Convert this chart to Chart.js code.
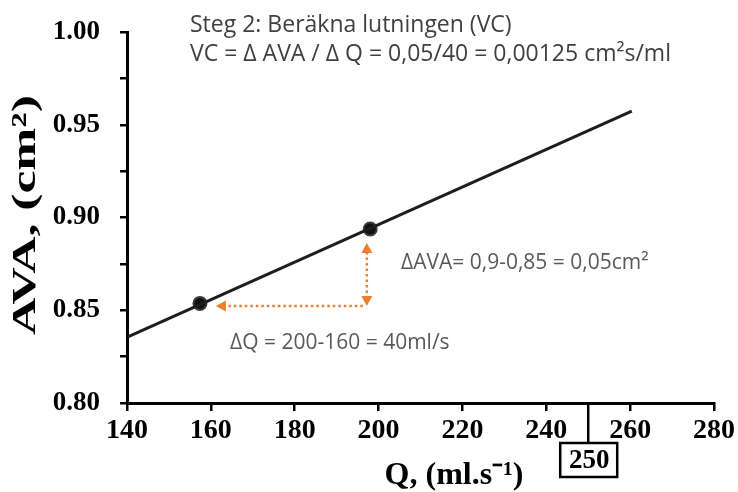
<!DOCTYPE html>
<html lang="sv">
<head>
<meta charset="UTF-8">
<title>AVA mot Q</title>
<style>
  html, body { margin: 0; padding: 0; background: #fff; }
  canvas { display: block; }
</style>
</head>
<body>
<canvas id="c" width="738" height="492"></canvas>

<script src="https://cdn.jsdelivr.net/npm/chart.js"></script>
<script>
"use strict";

// regression line, its two ends
const lineQ = [140.2, 260.4];
const lineAva = [0.8356, 0.9574];
// the two marked measurements
const pointQ = [157.4, 198.0];
const pointAva = [0.8537, 0.8938];
// orange helper arrows: dQ (horizontal) and dAVA (vertical)
const arrowQ = [161.2, 197.2];
const arrowAva = [0.8523, 0.8863];
// boxed value under the x axis
const markedQ = 250;

// axis ticks
const qTicks = [140, 160, 180, 200, 220, 240, 260, 280];
const avaTicks = [0.80, 0.825, 0.85, 0.875, 0.90, 0.925, 0.95, 0.975, 1.00];
const avaLabels = ["0.80", "", "0.85", "", "0.90", "", "0.95", "", "1.00"];

// texts
const titleLines = ["Steg 2: Beräkna lutningen (VC)", "VC = Δ AVA / Δ Q = 0,05/40 = 0,00125 cm²s/ml"];
const dAvaText = "ΔAVA= 0,9-0,85 = 0,05cm²";
const dQText = "ΔQ = 200-160 = 40ml/s";
const yTitle = "AVA, (cm²)";
const xTitle = "Q, (ml.s⁻¹)";

const serif = '"Liberation Serif", "Times New Roman", serif';
const sans = '"Open Sans", "Noto Sans", sans-serif';
const orange = "#ed7d31";

function arrowHead(ctx, x, y, dir) {
     const l = 10, w = 5.5;
     ctx.beginPath();
     ctx.moveTo(x, y);
     if (dir === "left") { ctx.lineTo(x + l, y - w); ctx.lineTo(x + l, y + w); }
     if (dir === "up") { ctx.lineTo(x - w, y + l); ctx.lineTo(x + w, y + l); }
     if (dir === "down") { ctx.lineTo(x - w, y - l); ctx.lineTo(x + w, y - l); }
     ctx.closePath();
     ctx.fill();
}

const overlay = {
     id: "overlay",
     afterDraw(chart) {
          const ctx = chart.ctx;
          const x = chart.scales.x, y = chart.scales.y;
          ctx.save();

          // dotted orange arrows
          const xl = x.getPixelForValue(arrowQ[0]), xr = x.getPixelForValue(arrowQ[1]);
          const yb = y.getPixelForValue(arrowAva[0]), yt = y.getPixelForValue(arrowAva[1]);
          ctx.strokeStyle = orange;
          ctx.fillStyle = orange;
          ctx.lineWidth = 2.5;
          ctx.setLineDash([2.5, 3]);
          ctx.beginPath();
          ctx.moveTo(xr - 4, yb);
          ctx.lineTo(xl + 9, yb);
          ctx.moveTo(xr, yt + 9);
          ctx.lineTo(xr, yb - 9);
          ctx.stroke();
          ctx.setLineDash([]);
          arrowHead(ctx, xl, yb, "left");
          arrowHead(ctx, xr, yt, "up");
          arrowHead(ctx, xr, yb, "down");

          // annotation texts
          ctx.textBaseline = "middle";
          ctx.textAlign = "left";
          ctx.fillStyle = "#595959";
          ctx.font = "21px " + sans;
          ctx.fillText(dAvaText, 401, 263, 296);
          ctx.fillText(dQText, 230, 343, 233);

          // heading
          ctx.fillStyle = "#404040";
          ctx.font = "23px " + sans;
          ctx.textBaseline = "alphabetic";
          ctx.fillText(titleLines[0], 190, 32, 346);
          ctx.fillText(titleLines[1], 190, 61, 533);

          // boxed 250 under the axis
          const px = x.getPixelForValue(markedQ);
          const axisY = y.bottom;
          ctx.strokeStyle = "#000";
          ctx.lineWidth = 2.5;
          ctx.beginPath();
          ctx.moveTo(px, axisY);
          ctx.lineTo(px, axisY + 40);
          ctx.stroke();
          ctx.strokeRect(px - 28, axisY + 40, 57, 34);
          ctx.fillStyle = "#000";
          ctx.font = "bold 27px " + serif;
          ctx.textAlign = "center";
          ctx.textBaseline = "middle";
          ctx.fillText(String(markedQ), px + 1, axisY + 58);

          // x axis title
          ctx.font = "bold 32px " + serif;
          ctx.fillText(xTitle, 454, 476, 145);

          // y axis title, stretched along its length like the source figure
          ctx.translate(26, 215);
          ctx.rotate(-Math.PI / 2);
          ctx.font = "bold 34px " + serif;
          const w = ctx.measureText(yTitle).width;
          ctx.scale(240 / w, 1);
          ctx.fillText(yTitle, 0, 0);

          ctx.restore();
     }
};

new Chart(document.getElementById("c"), {
     type: "scatter",
     data: {
          datasets: [
               {
                    label: "Linje",
                    data: lineQ.map((q, i) => ({ x: q, y: lineAva[i] })),
                    showLine: true,
                    borderColor: "#1e1e1e",
                    borderWidth: 3,
                    pointRadius: 0
               },
               {
                    label: "Mätpunkter",
                    data: pointQ.map((q, i) => ({ x: q, y: pointAva[i] })),
                    pointRadius: 6.5,
                    backgroundColor: "#111",
                    borderColor: "#3a3a3a",
                    borderWidth: 2
               }
          ]
     },
     options: {
          responsive: false,
          animation: false,
          layout: { padding: { top: 32, right: 24, left: 0, bottom: 0 } },
          plugins: {
               legend: { display: false },
               tooltip: { enabled: false }
          },
          scales: {
               x: {
                    type: "linear",
                    min: qTicks[0],
                    max: qTicks[qTicks.length - 1],
                    afterBuildTicks: s => { s.ticks = qTicks.map(v => ({ value: v })); },
                    afterFit: s => { s.height = 89; },
                    grid: { drawOnChartArea: false, drawTicks: true, tickLength: 8, color: "#000", lineWidth: 2.5 },
                    border: { display: true, color: "#000", width: 3 },
                    ticks: {
                         color: "#000",
                         padding: 3,
                         maxRotation: 0,
                         font: { family: serif, weight: "bold", size: 28 }
                    }
               },
               y: {
                    type: "linear",
                    min: avaTicks[0],
                    max: avaTicks[avaTicks.length - 1],
                    afterBuildTicks: s => { s.ticks = avaTicks.map(v => ({ value: v })); },
                    afterFit: s => { s.width = 127; s.paddingTop = 0; s.paddingBottom = 0; },
                    grid: { drawOnChartArea: false, drawTicks: true, tickLength: 7, color: "#000", lineWidth: 2.5 },
                    border: { display: true, color: "#000", width: 3 },
                    ticks: {
                         color: "#000",
                         padding: 20,
                         callback: (v, i) => avaLabels[i],
                         font: { family: serif, weight: "bold", size: 27 }
                    }
               }
          }
     },
     plugins: [overlay]
});
</script>
</body>
</html>
